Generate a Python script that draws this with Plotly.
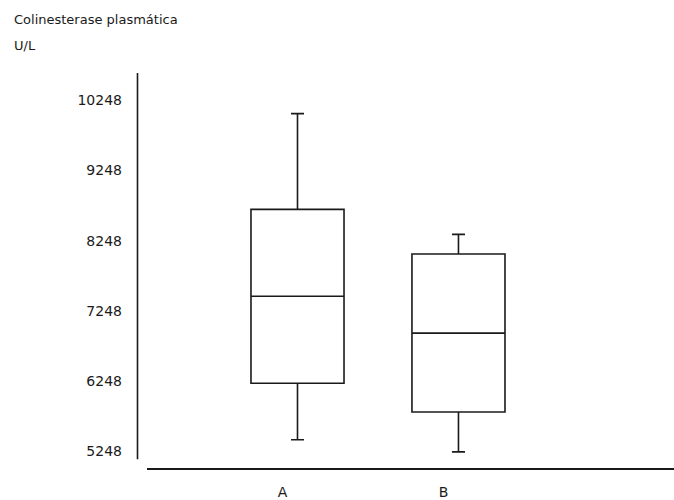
import plotly.graph_objects as go

groups = ["A", "B"]
lower_whisker = [5416, 5244]
q1_values = [6221, 5811]
medians = [7459, 6934]
q3_values = [8694, 8059]
upper_whisker = [10057, 8339]
y_ticks = [5248, 6248, 7248, 8248, 9248, 10248]
y_title_line1 = "Colinesterase plasmática"
y_title_line2 = "U/L"

FONT = "DejaVu Sans"
INK = "#1a1a1a"

fig = go.Figure()
fig.add_trace(go.Box(
    x=groups,
    q1=q1_values,
    median=medians,
    q3=q3_values,
    lowerfence=lower_whisker,
    upperfence=upper_whisker,
    width=0.578,
    whiskerwidth=0.14,
    fillcolor="white",
    line=dict(color=INK, width=1.6),
    boxpoints=False,
    showlegend=False,
))

W, H = 674, 500
L, R, T, B = 147, 0, 73, 25
pw = W - L - R
ph = H - T - B

fig.update_layout(
    width=W, height=H,
    margin=dict(l=L, r=R, t=T, b=B, pad=0),
    paper_bgcolor="white", plot_bgcolor="white",
    font=dict(family=FONT, size=13, color=INK),
    xaxis=dict(
        type="category",
        range=[-0.935, 2.339],
        showgrid=False, zeroline=False,
        showline=True, linecolor=INK, linewidth=1.6,
        ticks="", ticklabelshift=-15, ticklabelstandoff=10,
        tickfont=dict(family=FONT, size=14, color=INK),
        fixedrange=True,
    ),
    yaxis=dict(
        range=[5014.5, 10635],
        tickvals=y_ticks,
        ticktext=[str(v) for v in y_ticks],
        showgrid=False, zeroline=False, showline=False,
        ticks="", ticklabelstandoff=24,
        tickfont=dict(family=FONT, size=14, color=INK),
        fixedrange=True,
    ),
    shapes=[
        dict(type="line", xref="paper", yref="paper",
             x0=(137.5 - L) / pw, x1=(137.5 - L) / pw,
             y0=(H - B - 466) / ph, y1=1,
             line=dict(color=INK, width=1.6)),
    ],
    annotations=[
        dict(text=y_title_line1, xref="paper", yref="paper",
             x=(12 - L) / pw, y=1 + (T - 19) / ph, xanchor="left", yanchor="middle",
             showarrow=False, font=dict(family=FONT, size=13, color=INK)),
        dict(text=y_title_line2, xref="paper", yref="paper",
             x=(12 - L) / pw, y=1 + (T - 45) / ph, xanchor="left", yanchor="middle",
             showarrow=False, font=dict(family=FONT, size=13, color=INK)),
    ],
)

fig.write_html("out.html")
